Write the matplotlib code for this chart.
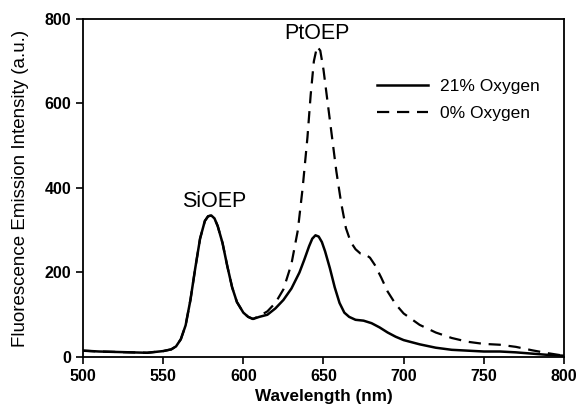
import numpy as np
import matplotlib.pyplot as plt

plt.rcParams['font.family'] = ['Liberation Sans', 'DejaVu Sans']

# wavelengths (nm) and intensities
wl_air = [500, 510, 520, 530, 540, 545, 550, 555, 558, 561, 564, 567, 570, 573, 576, 578, 580, 582,
          584, 587, 590, 593, 596, 600, 603, 606, 610, 615, 620, 625, 630, 635, 638, 641, 643, 645,
          647, 649, 651, 654, 657, 660, 663, 666, 670, 675, 680, 685, 690, 695, 700, 710, 720, 730,
          740, 750, 760, 770, 780, 790, 800]
air = [15, 13, 12, 11, 10, 12, 14, 18, 25, 42, 75, 135, 210, 280, 322, 333, 335, 328,
       310, 270, 215, 165, 130, 105, 95, 90, 95, 100, 115, 135, 162, 200, 230, 262, 280, 288,
       285, 272, 250, 210, 165, 128, 105, 95, 88, 86, 80, 70, 58, 48, 40, 30, 22, 17,
       15, 13, 13, 11, 8, 5, 3]

wl_n2 = [500, 510, 520, 530, 540, 545, 550, 555, 558, 561, 564, 567, 570, 573, 576, 578, 580, 582,
         584, 587, 590, 593, 596, 600, 603, 606, 610, 615, 620, 625, 630, 634, 637, 640, 642, 644,
         646, 648, 650, 652, 655, 658, 661, 664, 667, 670, 673, 676, 679, 682, 686, 690, 695, 700,
         710, 720, 730, 740, 750, 760, 770, 780, 790, 800]
n2 = [15, 13, 12, 11, 10, 12, 14, 18, 25, 42, 75, 135, 210, 280, 322, 333, 335, 328,
      310, 270, 215, 165, 130, 105, 95, 90, 97, 108, 128, 160, 220, 300, 400, 520, 620, 700,
      735, 725, 680, 620, 530, 440, 365, 305, 272, 255, 245, 243, 235, 218, 188, 155, 125, 103,
      76, 58, 45, 36, 31, 29, 24, 16, 9, 3]

fig = plt.figure(figsize=(5.79, 4.12), dpi=100)
ax = fig.add_axes([0.1434, 0.1335, 0.8306, 0.8205])

ax.plot(wl_air, air, color='black', lw=1.8, label='21% Oxygen')
ax.plot(wl_n2, n2, color='black', lw=1.6, dashes=(5.5, 3.5), label='0% Oxygen')

ax.set_xlim(500, 800)
ax.set_ylim(0, 800)
ax.set_xticks(np.arange(500, 801, 50))
ax.set_yticks(np.arange(0, 801, 200))
ax.tick_params(direction='out', length=5, width=1.2, labelsize=11.5)
for lbl in ax.get_xticklabels() + ax.get_yticklabels():
    lbl.set_fontweight('bold')
for s in ax.spines.values():
    s.set_linewidth(1.3)

ax.set_xlabel('Wavelength (nm)', fontsize=12.3, fontweight='bold')
ax.set_ylabel('Fluorescence Emission Intensity (a.u.)', fontsize=13.5, labelpad=11)

ax.text(582, 368, 'SiOEP', fontsize=15.5, ha='center', va='center')
ax.text(646, 766, 'PtOEP', fontsize=15.5, ha='center', va='center')

ax.legend(loc='upper left', bbox_to_anchor=(0.611, 0.823), frameon=False, fontsize=12.5,
          handlelength=2.94, handletextpad=0.69, labelspacing=0.68,
          borderpad=0, borderaxespad=0)

fig.savefig('out.png', dpi=100)
